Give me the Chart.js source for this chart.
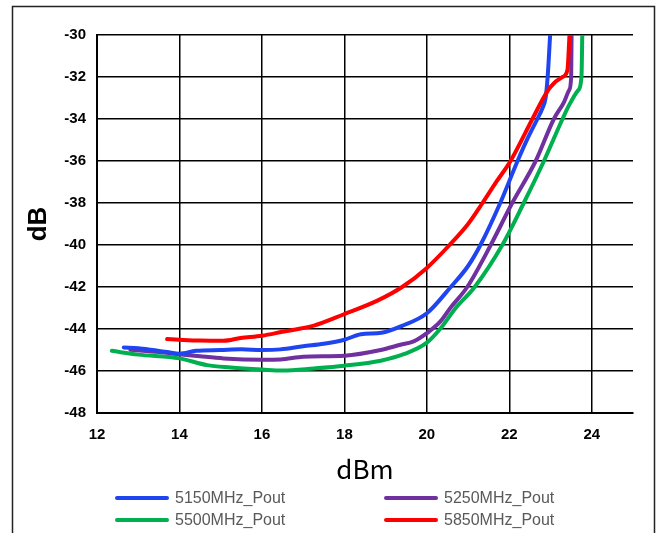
<!DOCTYPE html>
<html>
<head>
<meta charset="utf-8">
<script src="https://cdn.jsdelivr.net/npm/chart.js@4"></script>
<style>
  html, body { margin: 0; padding: 0; background: #fff; }
  #wrap { position: relative; width: 662px; height: 533px; overflow: hidden; }
  #legend { position: absolute; left: 0; top: 0; width: 662px; height: 533px; pointer-events: none; }
  .item { position: absolute; height: 20px; display: flex; align-items: center;
          font: 16px "Liberation Sans", Arial, sans-serif; color: #595959; }
  .item span.swatch { display: inline-block; width: 54px; height: 4px; border-radius: 2px; margin-right: 6px; }
</style>
</head>
<body>
<div id="wrap">
  <canvas id="chart" width="662" height="533"></canvas>
  <div id="legend"></div>
</div>
<script>
// series labels and colours
const seriesLabels = ["5150MHz_Pout", "5250MHz_Pout", "5500MHz_Pout", "5850MHz_Pout"];
const seriesColors = ["#1f45f0", "#7030a0", "#00b050", "#ff0000"];

// tick labels
const xTicks = [12, 14, 16, 18, 20, 22, 24];
const yTicks = [-48, -46, -44, -42, -40, -38, -36, -34, -32, -30];

// values (x = dBm, y = dB)
const pout5150X = [12.65, 13.0, 13.3, 13.7, 14.0, 14.4, 15.0, 15.5, 16.0, 16.45, 17.0, 17.5, 18.0, 18.4, 18.9, 19.4, 20.0, 20.58, 21.0, 21.3, 21.78, 22.2, 22.45, 22.68, 22.8, 22.88, 22.93, 22.99];
const pout5150Y = [-44.88, -44.92, -44.99, -45.1, -45.18, -45.04, -45.0, -44.97, -45.0, -44.97, -44.82, -44.7, -44.51, -44.25, -44.18, -43.85, -43.25, -42.0, -41.0, -40.0, -38.0, -36.0, -34.9, -34.0, -33.5, -33.0, -32.0, -30.0];

const pout5250X = [12.81, 13.5, 14.0, 14.5, 15.07, 16.0, 16.45, 17.0, 18.0, 18.88, 19.36, 19.68, 20.0, 20.33, 20.58, 20.98, 21.55, 22.07, 22.64, 23.08, 23.33, 23.45, 23.5, 23.51];
const pout5250Y = [-44.99, -45.1, -45.2, -45.3, -45.4, -45.46, -45.45, -45.32, -45.27, -45.0, -44.75, -44.59, -44.2, -43.64, -42.97, -42.0, -40.0, -38.0, -36.0, -34.0, -33.18, -32.63, -32.0, -30.0];

const pout5500X = [12.36, 13.0, 14.0, 14.67, 15.24, 16.0, 16.5, 17.26, 18.0, 18.88, 19.44, 20.0, 20.32, 20.7, 21.16, 21.83, 22.35, 22.84, 23.29, 23.45, 23.67, 23.75, 23.77];
const pout5500Y = [-45.04, -45.22, -45.4, -45.72, -45.83, -45.93, -45.98, -45.88, -45.75, -45.51, -45.2, -44.65, -44.0, -43.0, -42.0, -40.0, -38.0, -36.0, -34.0, -33.34, -32.63, -32.0, -30.0];

const pout5850X = [13.7, 14.0, 14.5, 15.07, 15.48, 16.0, 16.5, 17.26, 18.0, 18.8, 19.4, 20.0, 20.55, 21.0, 21.35, 21.7, 22.03, 22.56, 22.84, 23.0, 23.29, 23.41, 23.46];
const pout5850Y = [-44.48, -44.51, -44.55, -44.56, -44.43, -44.32, -44.13, -43.84, -43.29, -42.65, -42.0, -41.09, -40.0, -39.0, -38.0, -36.95, -36.0, -34.0, -32.95, -32.47, -32.0, -31.67, -30.0];

const seriesX = [pout5150X, pout5250X, pout5500X, pout5850X];
const seriesY = [pout5150Y, pout5250Y, pout5500Y, pout5850Y];

// outer frame around the figure
const framePlugin = {
    id: "frame",
    beforeDraw(chart) {
        const c = chart.ctx;
        c.save();
        c.fillStyle = "#fff";
        c.fillRect(0, 0, chart.width, chart.height);
        c.strokeStyle = "#222";
        c.lineWidth = 1.5;
        c.strokeRect(12.5, 6.5, 642, 600);
        c.restore();
    }
};

const tickFont = { family: "'Liberation Sans', Arial, sans-serif", size: 15, weight: "bold" };

new Chart(document.getElementById("chart"), {
    type: "line",
    data: {
        datasets: seriesLabels.map((label, i) => ({
            label: label,
            data: seriesX[i].map((x, j) => ({ x: x, y: seriesY[i][j] })),
            borderColor: seriesColors[i],
            backgroundColor: seriesColors[i],
            borderWidth: 4,
            borderCapStyle: "round",
            borderJoinStyle: "round",
            pointRadius: 0,
            cubicInterpolationMode: "monotone",
            fill: false,
            order: i === 3 ? 0 : 1
        }))
    },
    options: {
        responsive: false,
        animation: false,
        layout: { padding: { left: 0, top: 35, right: 29, bottom: 0 } },
        plugins: {
            legend: { display: false },
            tooltip: { enabled: false }
        },
        scales: {
            x: {
                type: "linear",
                min: 12,
                max: 25,
                afterBuildTicks: (s) => { s.ticks = xTicks.map(v => ({ value: v })); },
                afterFit: (s) => { s.height = 120; },
                grid: { color: "#000", lineWidth: 1.5, drawTicks: false },
                border: { color: "#000", width: 2 },
                ticks: { color: "#000", font: tickFont, padding: 13, maxRotation: 0 },
                title: {
                    display: true,
                    text: "dBm",
                    color: "#000",
                    font: { family: "'Noto Sans CJK SC', 'Noto Sans', sans-serif", size: 26 },
                    padding: { top: 0, bottom: 48 }
                }
            },
            y: {
                type: "linear",
                min: -48,
                max: -30,
                afterBuildTicks: (s) => { s.ticks = yTicks.map(v => ({ value: v })); },
                afterFit: (s) => { s.width = 97; },
                grid: { color: "#000", lineWidth: 1.5, drawTicks: false },
                border: { color: "#000", width: 2 },
                ticks: { color: "#000", font: tickFont, padding: 11 },
                title: {
                    display: true,
                    text: "dB",
                    color: "#000",
                    font: { family: "'Liberation Sans', Arial, sans-serif", size: 26, weight: "bold" },
                    padding: { top: 23, bottom: 0 }
                }
            }
        }
    },
    plugins: [framePlugin]
});

// legend: two columns, two rows
const legendPos = [[115, 488], [384, 488], [115, 510], [384, 510]];
const legendEl = document.getElementById("legend");
seriesLabels.forEach((label, i) => {
    const d = document.createElement("div");
    d.className = "item";
    d.style.left = legendPos[i][0] + "px";
    d.style.top = legendPos[i][1] + "px";
    const sw = document.createElement("span");
    sw.className = "swatch";
    sw.style.background = seriesColors[i];
    d.appendChild(sw);
    d.appendChild(document.createTextNode(label));
    legendEl.appendChild(d);
});
</script>
</body>
</html>
